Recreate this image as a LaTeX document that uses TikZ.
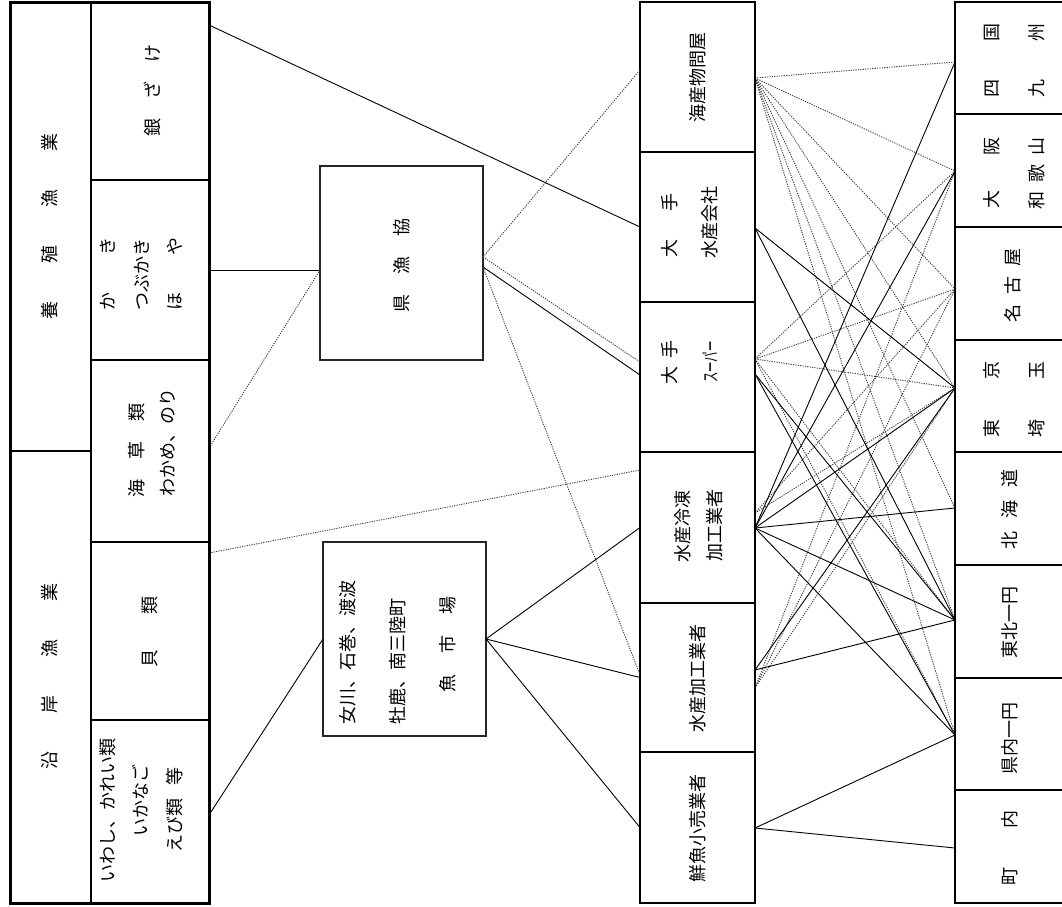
\documentclass[tikz,border=0pt]{standalone}
\usepackage{graphicx}
\usepackage{fontspec}
\newfontfamily\jp{Noto Sans CJK JP}
\newcommand\gp[1]{\hspace{#1pt}}
\begin{document}
\begin{tikzpicture}[x=1pt,y=-1pt,
  cell/.style={draw, line width=1.1pt, inner sep=0pt, outer sep=0pt},
  heavy/.style={line width=2.4pt},
  box/.style={draw=black!85, line width=2pt, inner sep=0pt, outer sep=0pt},
  lbl/.style={rotate=90, font=\jp\fontsize{18}{21}\selectfont, inner sep=0pt},
  con/.style={line width=0.9pt},
  dot/.style={line width=0.9pt, black!75, dash pattern=on 1.2pt off 1.2pt}]
\useasboundingbox (0,0) rectangle (1062,906);
\fill[white] (0,0) rectangle (1062,906);

% ---------- left block cells
\node[cell, minimum width=81pt, minimum height=449pt] (yoshoku) at (50.5,226.5) {};
\node[cell, minimum width=81pt, minimum height=452pt] (engan) at (50.5,677) {};
\node[cell, minimum width=118pt, minimum height=178pt] (ginzake) at (150,91) {};
\node[cell, minimum width=118pt, minimum height=180pt] (kaki) at (150,270) {};
\node[cell, minimum width=118pt, minimum height=182pt] (kaiso) at (150,451) {};
\node[cell, minimum width=118pt, minimum height=178pt] (kai) at (150,631) {};
\node[cell, minimum width=118pt, minimum height=183pt] (iwashi) at (150,811.5) {};

% ---------- middle boxes
\node[box, minimum width=163pt, minimum height=194pt] (kenkyo) at (401.5,263) {};
\node[box, minimum width=163pt, minimum height=194pt] (ichiba) at (404.5,639) {};

% ---------- middle column
\node[cell, minimum width=115pt, minimum height=150pt] (m1) at (697.5,77) {};
\node[cell, minimum width=115pt, minimum height=150pt] (m2) at (697.5,227) {};
\node[cell, minimum width=115pt, minimum height=150pt] (m3) at (697.5,377) {};
\node[cell, minimum width=115pt, minimum height=151pt] (m4) at (697.5,527.5) {};
\node[cell, minimum width=115pt, minimum height=149pt] (m5) at (697.5,677.5) {};
\node[cell, minimum width=115pt, minimum height=151pt] (m6) at (697.5,827.5) {};

% ---------- right column (right side runs past the page edge)
\node[cell, minimum width=112pt, minimum height=112pt] (r1) at (1011,58) {};
\node[cell, minimum width=112pt, minimum height=113pt] (r2) at (1011,170.5) {};
\node[cell, minimum width=112pt, minimum height=113pt] (r3) at (1011,283.5) {};
\node[cell, minimum width=112pt, minimum height=112pt] (r4) at (1011,396) {};
\node[cell, minimum width=112pt, minimum height=113pt] (r5) at (1011,508.5) {};
\node[cell, minimum width=112pt, minimum height=113pt] (r6) at (1011,621.5) {};
\node[cell, minimum width=112pt, minimum height=112pt] (r7) at (1011,734) {};
\node[cell, minimum width=112pt, minimum height=113pt] (r8) at (1011,846.5) {};

% ---------- ports
\coordinate (pGin) at (209,25);
\coordinate (pKaiso) at (209,448);
\coordinate (pKai) at (209,553);
\coordinate (pIwa) at (209,815);
\coordinate (pKenW) at (320,270);
\coordinate (pKenE1) at (483,257);
\coordinate (pKenE2) at (483,267);
\coordinate (pKaisanW) at (640,70);
\coordinate (pSuperW1) at (640,362);
\coordinate (pSuperW2) at (640,375);
\coordinate (pReitoW) at (640,470);
\coordinate (pKakoW) at (640,675);

\coordinate (A1) at (755,78);
\coordinate (A2) at (755,228);
\coordinate (A3d) at (755,359);
\coordinate (A3s) at (755,374);
\coordinate (A4d) at (755,513);
\coordinate (A4s) at (755,528);
\coordinate (A5s) at (755,670);
\coordinate (A5d) at (755,688);
\coordinate (A6) at (755,828);
\coordinate (B1) at (955,62);
\coordinate (B2) at (955,171);
\coordinate (B3) at (955,289);
\coordinate (B4) at (955,388);
\coordinate (B5) at (955,508);
\coordinate (B6) at (955,620);
\coordinate (B7) at (955,735);
\coordinate (B8) at (955,848);

% ---------- left connectors
\draw[con] (pGin) -- (m2.west);
\draw[con] (kaki.east) -- (kaki.east -| kenkyo.west);
\draw[dot] (pKaiso) -- (pKenW);
\draw[dot] (pKai) -- (pReitoW);
\draw[con] (pIwa) -- (ichiba.west);
\draw[dot] (pKenE1) -- (pKaisanW);
\draw[dot] (pKenE1) -- (pSuperW1);
\draw[con] (pKenE2) -- (pSuperW2);
\draw[dot] (pKenE2) -- (pKakoW);
\draw[con] (ichiba.east) -- (m4.west);
\draw[con] (ichiba.east) -- (m5.west);
\draw[con] (ichiba.east) -- (m6.west);

% ---------- right network
\foreach \b in {B1,B2,B3,B4,B5,B6,B7} \draw[dot] (A1) -- (\b);
\foreach \b in {B2,B3,B4,B6,B7} \draw[dot] (A3d) -- (\b);
\foreach \b in {B3,B4} \draw[dot] (A4d) -- (\b);
\foreach \b in {B2,B3,B4} \draw[dot] (A5d) -- (\b);
\foreach \b in {B4,B6} \draw[con] (A2) -- (\b);
\foreach \b in {B6,B7} \draw[con] (A3s) -- (\b);
\foreach \b in {B1,B2,B4,B5,B6,B7} \draw[con] (A4s) -- (\b);
\foreach \b in {B4,B6} \draw[con] (A5s) -- (\b);
\foreach \b in {B7,B8} \draw[con] (A6) -- (\b);

% ---------- heavy borders
\draw[line width=3pt] (yoshoku.north west) rectangle (iwashi.south east);
\draw[heavy] (m1.north east) -- (m6.south east);
\draw[heavy] (m2.south west) -- (m2.south east);
\draw[heavy] (m3.south west) -- (m3.south east);
\draw[heavy] (m4.south west) -- (m4.south east);
\draw[heavy] (r1.north west) -- (r8.south west);
\draw[heavy] (r4.south west) -- (r4.south east);
\draw[heavy] (r5.south west) -- (r5.south east);
\draw[heavy] (r7.south west) -- (r7.south east);

% ---------- labels
\node[lbl] (t-yo) at (50,226) {養\gp{38}殖\gp{38}漁\gp{38}業};
\node[lbl] (t-en) at (50,676) {沿\gp{38}岸\gp{38}漁\gp{38}業};
\node[lbl] (t-gin) at (152,90) {銀\gp{19}ざ\gp{19}け};
\node[lbl] (t-ka1) at (108,274) {か\gp{37}き};
\node[lbl] (t-ka2) at (142,274) {つぶかき};
\node[lbl] (t-ka3) at (175,274) {ほ\gp{37}や};
\node[lbl] (t-ks1) at (137,450) {海\gp{20}草\gp{20}類};
\node[lbl] (t-ks2) at (168,442) {わかめ、のり};
\node[lbl] (t-kai) at (150,632) {貝\gp{35}類};
\node[lbl] (t-iw1) at (108,810) {いわし、かれい類};
\node[lbl] (t-iw2) at (140,800) {いかなご};
\node[lbl] (t-iw3) at (175,810) {えび類\gp{13}等};

\node[lbl] (t-ken) at (402,265) {県\gp{20}漁\gp{20}協};
\node[lbl] (t-ic1) at (348,652) {女川、石巻、渡波};
\node[lbl] (t-ic2) at (398,661) {牡鹿、南三陸町};
\node[lbl] (t-ic3) at (448,644) {魚\gp{21}市\gp{21}場};

\node[lbl] (t-m1) at (698,77) {海産物問屋};
\node[lbl] (t-m2a) at (670,225) {大\gp{28}手};
\node[lbl] (t-m2b) at (710,222) {水産会社};
\node[lbl] (t-m3a) at (670,362) {大\gp{8}手};
\node[lbl] (t-m3b) at (710,362) {\scalebox{0.58}[1]{スーパー}};
\node[lbl] (t-m4a) at (683,526) {水産冷凍};
\node[lbl] (t-m4b) at (715,525) {加工業者};
\node[lbl] (t-m5) at (698,678) {水産加工業者};
\node[lbl] (t-m6) at (698,828) {鮮魚小売業者};

\node[lbl] (t-r1a) at (992,60) {四\gp{38}国};
\node[lbl] (t-r1b) at (1037,60) {九\gp{38}州};
\node[lbl] (t-r2a) at (992,173) {大\gp{35}阪};
\node[lbl] (t-r2b) at (1037,173) {和\gp{9}歌\gp{9}山};
\node[lbl] (t-r3) at (1013,285) {名\gp{10}古\gp{10}屋};
\node[lbl] (t-r4a) at (992,399) {東\gp{40}京};
\node[lbl] (t-r4b) at (1037,399) {埼\gp{40}玉};
\node[lbl] (t-r5) at (1010,509) {北\gp{13}海\gp{13}道};
\node[lbl] (t-r6) at (1010,622) {東北一円};
\node[lbl] (t-r7) at (1010,738) {県内一円};
\node[lbl] (t-r8) at (1010,848) {町\gp{39}内};
\end{tikzpicture}
\end{document}
